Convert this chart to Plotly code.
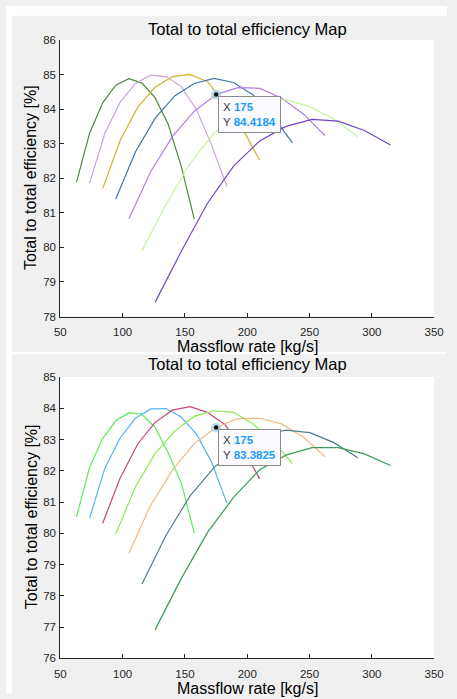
import plotly.graph_objects as go

# Final figure size (page pixels). The page first loads a slightly smaller figure that
# fits inside the default 8px body margin; a post-script then removes the margin and
# resizes the figure to the full window, so all positions below are full-window pixels.
W, H = 457, 699
LOAD_W, LOAD_H = W - 16, H - 16

# ---------------- data ----------------
mass_1 = [63, 73.5, 84, 94.5, 105, 115.5, 126, 136.5, 147, 157.5]
mass_2 = [73.5, 85.75, 98, 110.25, 122.5, 134.75, 147, 159.25, 171.5, 183.75]
mass_3 = [84, 98, 112, 126, 140, 154, 168, 182, 196, 210]
mass_4 = [94.5, 110.25, 126, 141.75, 157.5, 173.25, 189, 204.75, 220.5, 236.25]
mass_5 = [105, 122.5, 140, 157.5, 175, 192.5, 210, 227.5, 245, 262.5]
mass_6 = [115.5, 134.75, 154, 173.25, 192.5, 211.75, 231, 250.25, 269.5, 288.75]
mass_7 = [126, 147, 168, 189, 210, 231, 252, 273, 294, 315]

eff_top_1 = [81.89, 83.30, 84.18, 84.69, 84.88, 84.75, 84.33, 83.57, 82.35, 80.82]
eff_top_2 = [81.86, 83.30, 84.20, 84.74, 84.98, 84.94, 84.65, 83.99, 82.95, 81.76]
eff_top_3 = [81.70, 83.09, 84.05, 84.63, 84.94, 85.00, 84.80, 84.15, 83.45, 82.52]
eff_top_4 = [81.40, 82.76, 83.73, 84.38, 84.74, 84.89, 84.77, 84.41, 83.80, 83.02]
eff_top_5 = [80.83, 82.19, 83.21, 83.94, 84.4184, 84.62, 84.60, 84.32, 83.86, 83.23]
eff_top_6 = [79.90, 81.24, 82.42, 83.30, 83.85, 84.15, 84.27, 84.07, 83.71, 83.20]
eff_top_7 = [78.41, 79.88, 81.27, 82.35, 83.08, 83.50, 83.70, 83.65, 83.38, 82.96]

eff_bot_1 = [80.53, 82.11, 83.03, 83.60, 83.86, 83.81, 83.39, 82.58, 81.62, 80.01]
eff_bot_2 = [80.49, 82.08, 83.05, 83.68, 83.98, 83.99, 83.72, 83.17, 82.27, 80.95]
eff_bot_3 = [80.32, 81.77, 82.85, 83.55, 83.94, 84.05, 83.87, 83.48, 82.75, 81.74]
eff_bot_4 = [79.98, 81.48, 82.55, 83.27, 83.74, 83.92, 83.87, 83.50, 82.95, 82.24]
eff_bot_5 = [79.36, 80.90, 82.03, 82.87, 83.3825, 83.67, 83.68, 83.50, 83.08, 82.45]
eff_bot_6 = [78.38, 79.93, 81.19, 82.10, 82.75, 83.15, 83.30, 83.22, 82.90, 82.42]
eff_bot_7 = [76.91, 78.55, 80.02, 81.15, 82.03, 82.50, 82.74, 82.74, 82.54, 82.17]

tip_top_x, tip_top_y = 175, 84.4184
tip_bot_x, tip_bot_y = 175, 83.3825

x_ticks = [50, 100, 150, 200, 250, 300, 350]
y_ticks_top = [78, 79, 80, 81, 82, 83, 84, 85, 86]
y_ticks_bot = [76, 77, 78, 79, 80, 81, 82, 83, 84, 85]

title_text = "Total to total efficiency Map"
xlabel_text = "Massflow rate [kg/s]"
ylabel_text = "Total to total efficiency [%]"

masses = [mass_1, mass_2, mass_3, mass_4, mass_5, mass_6, mass_7]
top_effs = [eff_top_1, eff_top_2, eff_top_3, eff_top_4, eff_top_5, eff_top_6, eff_top_7]
bot_effs = [eff_bot_1, eff_bot_2, eff_bot_3, eff_bot_4, eff_bot_5, eff_bot_6, eff_bot_7]

top_colors = ["#4e8a3c", "#c9a3dc", "#cfb12e", "#3d78a8", "#b47ee0", "#c5f5a0", "#7445c4"]
bot_colors = ["#55ee55", "#55b4ee", "#c04a74", "#88ec4c", "#f0b880", "#4f7f8c", "#3d9b55"]

# ---------------- layout helpers (full-window pixels -> paper fractions) ----------------
def px_x(p):
    return p / W

def px_y(p):
    return 1 - p / H

X0, X1 = 56.3, 443.7
TOP_Y0, TOP_Y1 = 34.5, 316.0
BOT_Y0, BOT_Y1 = 377.5, 663.7

fig = go.Figure()

for m, e, c in zip(masses, top_effs, top_colors):
    fig.add_trace(go.Scatter(x=m, y=e, mode="lines", line=dict(color=c, width=1.2),
                             xaxis="x", yaxis="y", showlegend=False, hoverinfo="x+y"))
for m, e, c in zip(masses, bot_effs, bot_colors):
    fig.add_trace(go.Scatter(x=m, y=e, mode="lines", line=dict(color=c, width=1.2),
                             xaxis="x2", yaxis="y2", showlegend=False, hoverinfo="x+y"))

# datatip markers
for xa, ya, tx, ty in [("x", "y", tip_top_x, tip_top_y), ("x2", "y2", tip_bot_x, tip_bot_y)]:
    fig.add_trace(go.Scatter(x=[tx], y=[ty], mode="markers", xaxis=xa, yaxis=ya,
                             marker=dict(size=10, color="rgba(170,205,230,0.75)",
                                         line=dict(width=0)),
                             showlegend=False, hoverinfo="skip"))
    fig.add_trace(go.Scatter(x=[tx], y=[ty], mode="markers", xaxis=xa, yaxis=ya,
                             marker=dict(size=4.5, color="#111111", line=dict(width=0)),
                             showlegend=False, hoverinfo="skip"))

tick_font = dict(family="Liberation Sans, Arial, sans-serif", size=11.5, color="#262626")
axis_common = dict(showline=True, linecolor="#262626", linewidth=1, mirror=False,
                   ticks="inside", ticklen=4, tickwidth=1, tickcolor="#262626",
                   showgrid=False, zeroline=False, tickfont=tick_font)

fig.update_layout(
    width=LOAD_W, height=LOAD_H, autosize=False,
    margin=dict(l=0, r=0, t=0, b=0, pad=0),
    paper_bgcolor="#f0f0f0", plot_bgcolor="#ffffff",
    xaxis=dict(domain=[px_x(X0), px_x(X1)], range=[50, 350], tickvals=x_ticks,
               anchor="y", ticklabelstandoff=5, ticklabeloverflow="allow", **axis_common),
    yaxis=dict(domain=[px_y(TOP_Y1), px_y(TOP_Y0)], range=[78, 86], tickvals=y_ticks_top,
               anchor="x", ticklabelstandoff=1, **axis_common),
    xaxis2=dict(domain=[px_x(X0), px_x(X1)], range=[50, 350], tickvals=x_ticks,
                anchor="y2", ticklabelstandoff=5, ticklabeloverflow="allow", **axis_common),
    yaxis2=dict(domain=[px_y(BOT_Y1), px_y(BOT_Y0)], range=[76, 85], tickvals=y_ticks_bot,
                anchor="x2", ticklabelstandoff=1, **axis_common),
    showlegend=False,
    hovermode="closest",
)

# white strips of the window background
for (x0, y0, x1, y1) in [(0, 0, W, 10), (0, 0, 6, H), (0, 352, W, 354.3)]:
    fig.add_shape(type="rect", xref="paper", yref="paper",
                  x0=px_x(x0), x1=px_x(x1), y0=px_y(y1), y1=px_y(y0),
                  fillcolor="#ffffff", line=dict(width=0), layer="below")

font_main = "Liberation Sans, Arial, sans-serif"
cx = px_x((X0 + X1) / 2)

def text_ann(x, y, txt, size, angle=0):
    fig.add_annotation(x=x, y=y, xref="paper", yref="paper", text=txt, showarrow=False,
                       xanchor="center", yanchor="middle", textangle=angle,
                       font=dict(family=font_main, size=size, color="#000000"))

# titles & labels
text_ann(cx, px_y(23), title_text, 16.5)
text_ann(cx, px_y(346.5), xlabel_text, 16)
text_ann(px_x(26), px_y(175), ylabel_text, 16, -90)

text_ann(cx, px_y(364.5), title_text, 16.5)
text_ann(cx, px_y(694), xlabel_text, 16)
text_ann(px_x(26), px_y(520), ylabel_text, 16, -90)

# datatip boxes
def datatip(xr, yr, tx, ty):
    txt = ("<span style='color:#404040'>X</span> <b><span style='color:#1a9cff'>%g</span></b><br>"
           "<span style='color:#404040'>Y</span> <b><span style='color:#1a9cff'>%.4f</span></b>") % (tx, ty)
    fig.add_annotation(x=tx, y=ty, xref=xr, yref=yr, text=txt, showarrow=False,
                       xanchor="left", yanchor="top", xshift=1.5, yshift=-1,
                       align="left", bgcolor="#fafaff", bordercolor="#8c8c8c",
                       borderwidth=1, borderpad=4,
                       font=dict(family=font_main, size=11.5, color="#404040"))

datatip("x", "y", tip_top_x, tip_top_y)
datatip("x2", "y2", tip_bot_x, tip_bot_y)

post = ("document.body.style.margin='0px';"
        "document.body.style.background='#f0f0f0';"
        "Plotly.relayout('{plot_id}', {width: %d, height: %d});" % (W, H))

fig.write_html("out.html", config={"displayModeBar": False}, post_script=post)
